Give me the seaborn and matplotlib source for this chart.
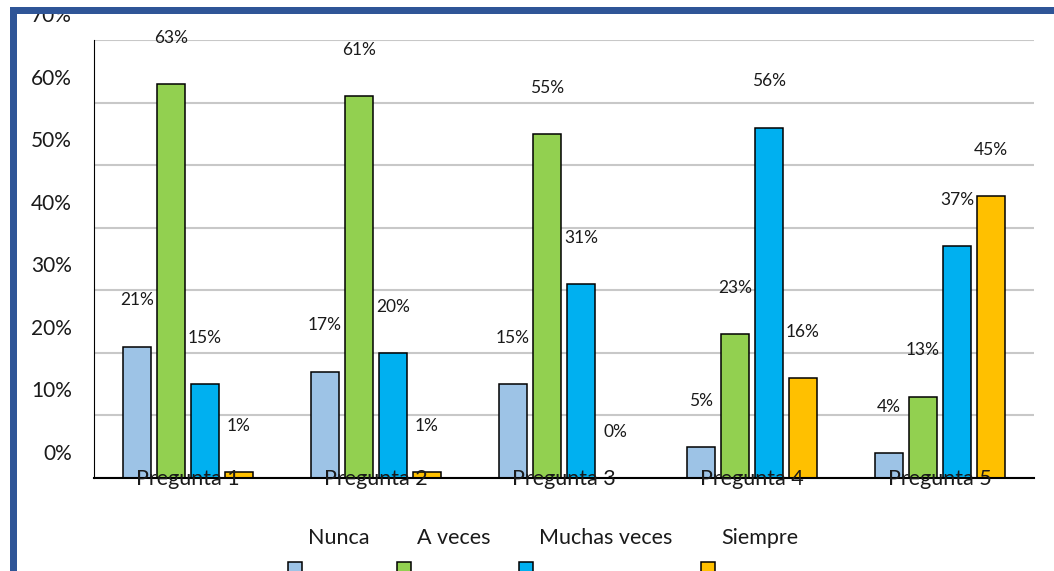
import numpy as np
import matplotlib
matplotlib.use("Agg")
import matplotlib.pyplot as plt
from matplotlib.patches import Rectangle
from matplotlib.ticker import PercentFormatter
from matplotlib.transforms import ScaledTranslation
import pandas as pd
import seaborn as sns

# datos (porcentaje de respuestas por pregunta)
preguntas = ['Pregunta 1', 'Pregunta 2', 'Pregunta 3', 'Pregunta 4', 'Pregunta 5']
series = ['Nunca', 'A veces', 'Muchas veces', 'Siempre']
nunca = [21, 17, 15, 5, 4]
a_veces = [63, 61, 55, 23, 13]
muchas_veces = [15, 20, 31, 56, 37]
siempre = [1, 1, 0, 16, 45]
y_ticks = [0, 10, 20, 30, 40, 50, 60, 70]

colores = {'Nunca': '#9DC3E6', 'A veces': '#92D050',
           'Muchas veces': '#00B0F0', 'Siempre': '#FFC000'}

df = pd.DataFrame({'Pregunta': preguntas, 'Nunca': nunca, 'A veces': a_veces,
                   'Muchas veces': muchas_veces, 'Siempre': siempre})
df_long = df.melt(id_vars='Pregunta', var_name='Respuesta', value_name='Porcentaje')

plt.rcParams['font.family'] = ['Lato', 'DejaVu Sans']

W, H = 1054, 571
fig = plt.figure(figsize=(W / 100, H / 100), dpi=100)
ax = fig.add_axes([94 / W, 1 - 478 / H, 940 / W, 438 / H])

sns.barplot(data=df_long, x='Pregunta', y='Porcentaje', hue='Respuesta',
            hue_order=series, order=preguntas, palette=colores, saturation=1,
            errorbar=None, width=0.723, gap=0.176, edgecolor='black',
            linewidth=1.1, legend=False, ax=ax)

# etiquetas de datos
for cont in ax.containers:
    ax.bar_label(cont, fmt='%.0f%%', padding=27.5, fontsize=12.5, color='#1a1a1a')

ax.set_xlim(-0.5, len(preguntas) - 0.5)
ax.set_ylim(0, 70)
ax.set_yticks(y_ticks)
ax.yaxis.set_major_formatter(PercentFormatter(xmax=100, decimals=0))
ax.set_xlabel('')
ax.set_ylabel('')

ax.grid(axis='y', color='#c8c8c8', linewidth=1.5)
ax.set_axisbelow(True)
ax.xaxis.set_zorder(3)

for s in ['top', 'right']:
    ax.spines[s].set_visible(False)
ax.spines['left'].set_linewidth(0.8)
ax.spines['bottom'].set_linewidth(1.5)
ax.spines['left'].set_color('black')
ax.spines['bottom'].set_color('black')

ax.tick_params(axis='y', length=0, pad=16, labelsize=15, labelcolor='#1a1a1a')
ax.tick_params(axis='x', length=0, pad=-6.5, labelsize=15.5, labelcolor='#1a1a1a')

# las etiquetas del eje Y aparecen desplazadas hacia arriba
desplazamiento = ScaledTranslation(0, 26 / 100, fig.dpi_scale_trans)
for lbl in ax.get_yticklabels():
    lbl.set_transform(lbl.get_transform() + desplazamiento)

# leyenda manual (texto arriba, cuadro abajo a la izquierda)
leyenda_x = [308, 417, 539, 721]
for nombre, x in zip(series, leyenda_x):
    fig.text(x / W, 1 - 544 / H, nombre, ha='left', va='baseline',
             fontsize=15.5, color='#1a1a1a')
    fig.patches.append(Rectangle(((x - 20) / W, 1 - 576 / H), 14 / W, 14 / H,
                                 transform=fig.transFigure, facecolor=colores[nombre],
                                 edgecolor='black', linewidth=1.1))

# marco azul
azul = '#2F5597'
fig.patches.append(Rectangle((10 / W, 1 - 14 / H), (W - 10) / W, 7 / H,
                             transform=fig.transFigure, facecolor=azul, edgecolor='none'))
fig.patches.append(Rectangle((10 / W, 0), 7 / W, (H - 7) / H,
                             transform=fig.transFigure, facecolor=azul, edgecolor='none'))

fig.savefig('out.png', dpi=100)
